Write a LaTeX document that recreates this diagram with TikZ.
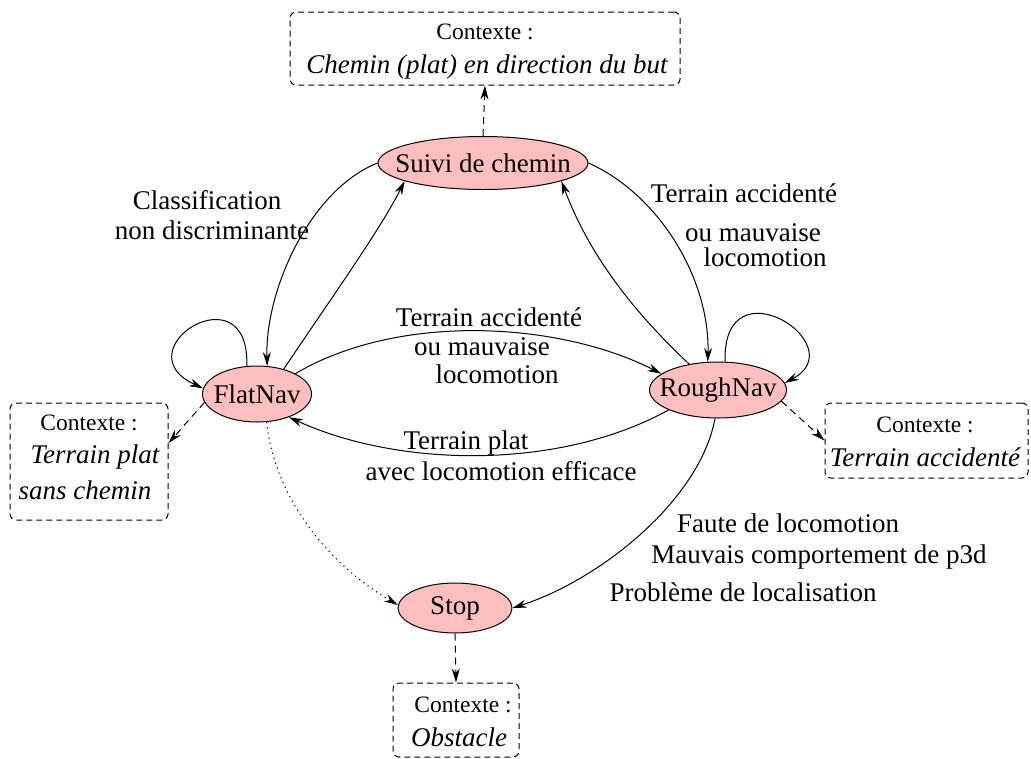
\documentclass[tikz,border=0pt]{standalone}
\usepackage{fontspec}
\setmainfont{Liberation Serif}
\usetikzlibrary{arrows.meta,shapes.geometric}
\definecolor{statepink}{RGB}{255,191,191}
\begin{document}
\begin{tikzpicture}[x=1pt,y=-1pt,
  state/.style={ellipse,draw,fill=statepink,line width=1pt,inner xsep=-20pt,inner ysep=0pt,font=\fontsize{27}{31}\selectfont},
  ctxbox/.style={draw,dash pattern=on 6pt off 4pt,rounded corners=6pt,line width=1pt,inner sep=0pt},
  lbl/.style={font=\fontsize{27}{31}\selectfont,inner sep=0pt},
  ctxt/.style={font=\fontsize{23.5}{27}\selectfont,inner sep=0pt},
  ctxi/.style={font=\fontsize{27}{31}\selectfont\itshape,inner sep=0pt},
  tr/.style={line width=1pt,-{Stealth[length=14pt,width=8pt]}},
  ctxarrow/.style={tr,dash pattern=on 7pt off 5pt},
  dotarrow/.style={tr,dash pattern=on 1.2pt off 4pt}
]
\useasboundingbox (0,0) rectangle (1031,758);

% states
\node[state,minimum width=210pt,minimum height=53pt] (suivi) at (483,163) {Suivi de chemin};
\node[state,minimum width=109pt,minimum height=56pt] (flat) at (257,394) {FlatNav};
\node[state,minimum width=137pt,minimum height=56pt] (rough) at (718,390) {RoughNav};
\node[state,minimum width=114pt,minimum height=50pt] (stop) at (455,608) {Stop};

% context boxes
\node[ctxbox,minimum width=390pt,minimum height=73pt] (topctx) at (485,48.5) {};
\node[ctxt] (topctxA) at (485,32) {Contexte :};
\node[ctxi] (topctxB) at (487,67) {Chemin (plat) en direction du but};

\node[ctxbox,minimum width=158pt,minimum height=117pt] (flatctx) at (89,461.5) {};
\node[ctxt] (flatctxA) at (89,423) {Contexte :};
\node[ctxi] (flatctxB) at (95,457) {Terrain plat};
\node[ctxi] (flatctxC) at (85,490) {sans chemin};

\node[ctxbox,minimum width=203pt,minimum height=75pt] (roughctx) at (926.5,440.5) {};
\node[ctxt] (roughctxA) at (925,425) {Contexte :};
\node[ctxi] (roughctxB) at (925,457) {Terrain accident\'e};

\node[ctxbox,minimum width=126pt,minimum height=74pt] (stopctx) at (456,720) {};
\node[ctxt] (stopctxA) at (463,705) {Contexte :};
\node[ctxi] (stopctxB) at (459,737) {Obstacle};

% edge labels
\node[lbl] (l1a) at (207,200) {Classification};
\node[lbl] (l1b) at (212,230) {non discriminante};
\node[lbl] (l2a) at (744,193) {Terrain accident\'e};
\node[lbl] (l2b) at (753,233) {ou mauvaise};
\node[lbl] (l2c) at (765,257) {locomotion};
\node[lbl] (l3a) at (489,317) {Terrain accident\'e};
\node[lbl] (l3b) at (482,347) {ou mauvaise};
\node[lbl] (l3c) at (497,374) {locomotion};
\node[lbl] (l4a) at (466,443) {Terrain plat};
\node[lbl] (l4b) at (501,471) {avec locomotion efficace};
\node[lbl] (l5a) at (788,523) {Faute de locomotion};
\node[lbl] (l5b) at (819,557) {Mauvais comportement de p3d};
\node[lbl] (l5c) at (743,592) {Probl\`eme de localisation};

% context arrows
\draw[ctxarrow] (suivi.north) -- (topctx.south);
\draw[ctxarrow] (flat.189) -- (flatctx.13);
\draw[ctxarrow] (rough.-10) -- (roughctx.west);
\draw[ctxarrow] (stop.south) -- (stopctx.north);

% transitions
\draw[tr] (suivi.west) .. controls (310,190) and (265,290) .. (flat.70);
\draw[tr] (flat.43) .. controls (330,300) and (380,230) .. (suivi.193);
\draw[tr] (suivi.east) .. controls (660,195) and (710,280) .. (rough.110);
\draw[tr] (rough.138) .. controls (610,290) and (580,230) .. (suivi.-13);
\draw[tr] (flat.28) .. controls (400,312) and (560,322) .. (rough.164);
\draw[tr] (rough.202) .. controls (560,470) and (400,468) .. (flat.324);
\draw[tr] (flat.110) .. controls (250,268) and (120,350) .. (flat.174);
\draw[tr] (rough.76) .. controls (722,260) and (855,345) .. (rough.6);
\draw[dotarrow] (flat.-71) .. controls (275,500) and (330,565) .. (stop.177);
\draw[tr] (rough.264) .. controls (700,500) and (600,580) .. (stop.east);
\end{tikzpicture}
\end{document}
